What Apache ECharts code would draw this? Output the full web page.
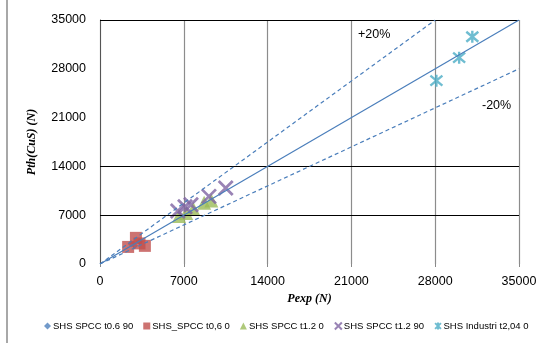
<!DOCTYPE html>
<html>
<head>
<meta charset="utf-8">
<script src="https://cdn.jsdelivr.net/npm/echarts@6/dist/echarts.min.js"></script>
<style>
  html, body { margin: 0; padding: 0; background: #fff; }
  #chart { width: 545px; height: 343px; }
</style>
</head>
<body>
<div id="chart"></div>
<script>
// Axis range and tick spacing (N)
const axisMin = 0;
const axisMax = 35000;
const tickStep = 7000;
// Horizontal reference levels drawn across the plot
const hLevels = [7000, 14000, 35000];

// Measured points [Pexp, Pth]
const spcc06_90 = [[2600, 2900], [3300, 3200], [2900, 2600]];
const spcc06_0 = [[3000, 3750], [2350, 2450], [3750, 2600], [3300, 2950]];
const spcc12_0 = [[6600, 6900], [7200, 7300], [7800, 7900], [8700, 8800], [9300, 9100]];
const spcc12_90 = [[6500, 7600], [7100, 8200], [7600, 8500], [9100, 9700], [10500, 10900]];
const industri204_0 = [[28100, 26300], [30000, 29600], [31100, 32600]];

// Agreement lines: y = x and the ±20% bands
const lineEqual = [[0, 0], [35000, 35000]];
const linePlus20 = [[0, 0], [28000, 35000]];
const lineMinus20 = [[0, 0], [35000, 28000]];

const names = [
  'SHS SPCC t0.6 90',
  'SHS_SPCC t0,6 0',
  'SHS SPCC t1.2 0',
  'SHS SPCC t1.2 90',
  'SHS Industri t2,04 0'
];

const blue = '#4a7ebb';
const crossPath = 'path://M0,0L10,10M10,0L0,10';
const starPath = 'path://M0,0L10,10M10,0L0,10M5,-1L5,11';

const chart = echarts.init(document.getElementById('chart'), null, { renderer: 'canvas' });

const refLine = (data, dashed) => ({
  type: 'line',
  data: data,
  symbol: 'none',
  silent: true,
  z: 5,
  lineStyle: { color: blue, width: 1.2, type: dashed ? [4, 3] : 'solid' }
});

const plainNumber = v => String(v);

chart.setOption({
  animation: false,
  textStyle: { fontFamily: 'Liberation Sans, Arial, sans-serif' },
  grid: { left: 100, right: 26, top: 20, bottom: 79, containLabel: false },
  xAxis: {
    type: 'value',
    min: axisMin, max: axisMax, interval: tickStep,
    name: 'Pexp (N)',
    nameLocation: 'middle',
    nameGap: 29,
    nameTextStyle: { fontFamily: 'Liberation Serif, serif', fontStyle: 'italic', fontWeight: 'bold', fontSize: 12, color: '#000' },
    axisLine: { show: false },
    axisTick: { show: true, inside: false, length: 3, lineStyle: { color: '#888', width: 1 } },
    axisLabel: { color: '#000', fontSize: 12.5, margin: 11, formatter: plainNumber },
    splitLine: { show: true, lineStyle: { color: '#8c8c8c', width: 1.2 } }
  },
  yAxis: {
    type: 'value',
    min: axisMin, max: axisMax, interval: tickStep,
    name: 'Pth(CuS) (N)',
    nameLocation: 'middle',
    nameGap: 62,
    nameTextStyle: { fontFamily: 'Liberation Serif, serif', fontStyle: 'italic', fontWeight: 'bold', fontSize: 12, color: '#000' },
    axisLine: { show: true, lineStyle: { color: '#555', width: 1 } },
    axisTick: { show: false },
    axisLabel: { color: '#000', fontSize: 12.5, margin: 14, formatter: plainNumber },
    splitLine: { show: false }
  },
  legend: {
    data: names,
    left: 39,
    top: 316,
    itemWidth: 7,
    itemHeight: 7,
    itemGap: 10,
    textStyle: { fontSize: 9.5, color: '#000', padding: [0, 0, 0, -3] }
  },
  graphic: [
    { type: 'line', shape: { x1: 7, y1: 0, x2: 7, y2: 343 }, style: { stroke: '#a8a8a8', lineWidth: 2 } },
    { type: 'text', left: 358, top: 28, style: { text: '+20%', fontSize: 12.5, fill: '#000', fontFamily: 'Liberation Sans, Arial, sans-serif' } },
    { type: 'text', left: 482, top: 99, style: { text: '-20%', fontSize: 12.5, fill: '#000', fontFamily: 'Liberation Sans, Arial, sans-serif' } }
  ],
  series: [
    {
      name: names[0], type: 'scatter', data: spcc06_90,
      symbol: 'diamond', symbolSize: 7,
      itemStyle: { color: '#4f81bd' }
    },
    {
      name: names[1], type: 'scatter', data: spcc06_0,
      symbol: 'rect', symbolSize: 12,
      itemStyle: { color: '#c0504d' }
    },
    {
      name: names[2], type: 'scatter', data: spcc12_0,
      symbol: 'triangle', symbolSize: 14,
      itemStyle: { color: '#9bbb59' }
    },
    {
      name: names[3], type: 'scatter', data: spcc12_90,
      symbol: crossPath, symbolSize: 14,
      itemStyle: { color: 'transparent', borderColor: '#8064a2', borderWidth: 2.8 }
    },
    {
      name: names[4], type: 'scatter', data: industri204_0,
      symbol: starPath, symbolSize: 12,
      itemStyle: { color: 'transparent', borderColor: '#4bacc6', borderWidth: 2.4 }
    },
    Object.assign(refLine(lineEqual, false), {
      markLine: {
        silent: true, symbol: 'none',
        label: { show: false },
        lineStyle: { color: '#000', width: 1, type: 'solid' },
        data: hLevels.map(v => ({ yAxis: v }))
      }
    }),
    refLine(linePlus20, true),
    refLine(lineMinus20, true)
  ]
});
</script>
</body>
</html>
